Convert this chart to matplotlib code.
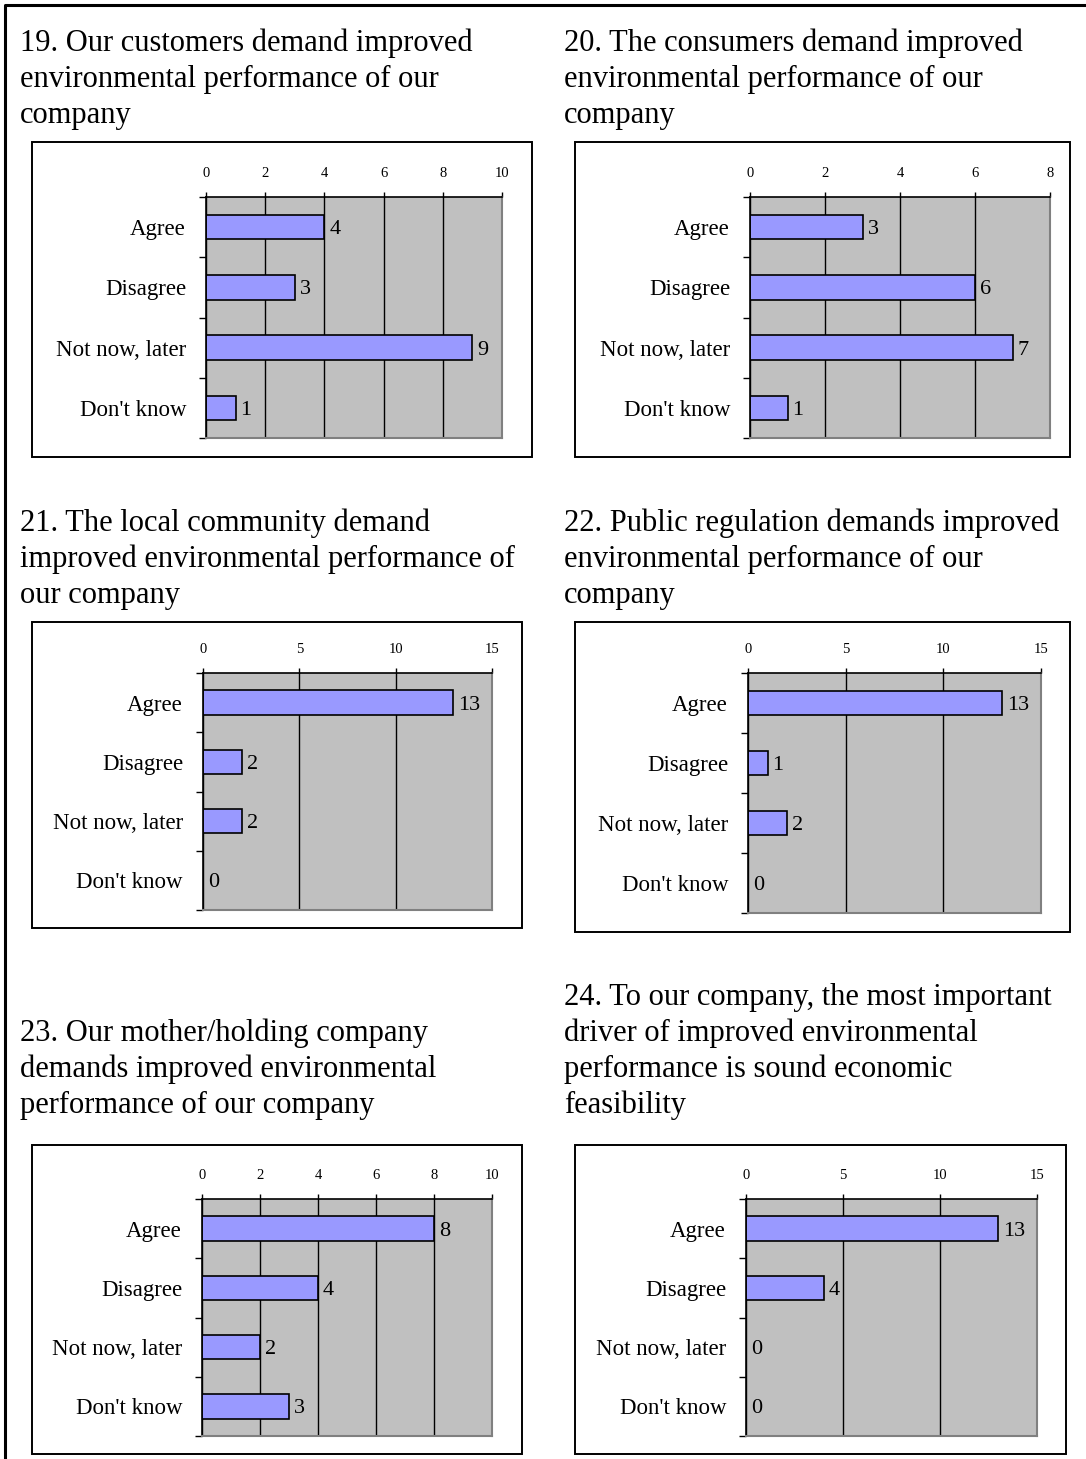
import numpy as np
import matplotlib
matplotlib.use("Agg")
import matplotlib.pyplot as plt
from matplotlib.patches import Rectangle
from matplotlib.lines import Line2D

plt.rcParams["font.family"] = ["Liberation Serif", "DejaVu Serif"]

# ---- survey data ----
categories = ["Agree", "Disagree", "Not now, later", "Don't know"]

q19_values = [4, 3, 9, 1]
q20_values = [3, 6, 7, 1]
q21_values = [13, 2, 2, 0]
q22_values = [13, 1, 2, 0]
q23_values = [8, 4, 2, 3]
q24_values = [13, 4, 0, 0]

q19_title = ["19. Our customers demand improved",
             "environmental performance of our",
             "company"]
q20_title = ["20. The consumers demand improved",
             "environmental performance of our",
             "company"]
q21_title = ["21. The local community demand",
             "improved environmental performance of",
             "our company"]
q22_title = ["22. Public regulation demands improved",
             "environmental performance of our",
             "company"]
q23_title = ["23. Our mother/holding company",
             "demands improved environmental",
             "performance of our company"]
q24_title = ["24. To our company, the most important",
             "driver of improved environmental",
             "performance is sound economic",
             "feasibility"]

q19_ticks = [0, 2, 4, 6, 8, 10]
q20_ticks = [0, 2, 4, 6, 8]
q21_ticks = [0, 5, 10, 15]
q22_ticks = [0, 5, 10, 15]
q23_ticks = [0, 2, 4, 6, 8, 10]
q24_ticks = [0, 5, 10, 15]

# ---- page layout (pixels) ----
W, H = 1086, 1459
DPI = 100
fig = plt.figure(figsize=(W / DPI, H / DPI), dpi=DPI)
fig.patch.set_facecolor("white")


def fx(x):
    return x / W


def fy(y):
    return 1 - y / H


# page frame (left and top edges visible)
fig.add_artist(Line2D([fx(5), fx(5), fx(W)], [fy(H), fy(5), fy(5)],
                      color="black", lw=2.2, transform=fig.transFigure))

panels = [
    # title, title x, first baseline, values, ticks, plot area, frame box
    (q19_title, 20, 51, q19_values, q19_ticks, (206, 197, 502, 438), (32, 142, 532, 457)),
    (q20_title, 564, 51, q20_values, q20_ticks, (750, 197, 1050, 438), (575, 142, 1070, 457)),
    (q21_title, 20, 531, q21_values, q21_ticks, (203, 673, 492, 910), (32, 622, 522, 928)),
    (q22_title, 564, 531, q22_values, q22_ticks, (748, 673, 1041, 913), (575, 622, 1070, 932)),
    (q23_title, 20, 1041, q23_values, q23_ticks, (202, 1199, 492, 1436), (32, 1145, 522, 1454)),
    (q24_title, 564, 1005, q24_values, q24_ticks, (746, 1199, 1037, 1436), (575, 1145, 1066, 1454)),
]

LINE_STEP = 36
px = 72 / DPI  # points per pixel

for title, tx, tb, values, ticks, plot, box in panels:
    # question text
    for i, line in enumerate(title):
        fig.text(fx(tx), fy(tb + i * LINE_STEP), line, fontsize=22,
                 ha="left", va="baseline", color="black")

    # chart frame
    bl, bt, br, bb = box
    fig.add_artist(Rectangle((fx(bl), fy(bb)), fx(br - bl), (bb - bt) / H,
                             fill=False, edgecolor="black", lw=1.4,
                             transform=fig.transFigure))

    # plot area
    l, t, r, b = plot
    ax = fig.add_axes([fx(l), fy(b), fx(r - l), (b - t) / H])
    ax.set_facecolor("#C0C0C0")
    ax.set_axisbelow(True)

    y = np.arange(len(categories))
    bars = ax.barh(y, values, height=0.41, color="#9999FF",
                   edgecolor="black", linewidth=1.2)
    labels = ax.bar_label(bars, labels=[str(v) for v in values],
                          padding=5 * px, fontsize=16, color="black")
    for lab in labels:
        lab.set_va("center_baseline")

    ax.set_xlim(ticks[0], ticks[-1])
    ax.set_ylim(len(categories) - 0.5, -0.5)

    # value axis along the top
    ax.xaxis.tick_top()
    ax.set_xticks(ticks, labels=[str(v) for v in ticks])
    ax.tick_params(axis="x", which="major", direction="out", length=5 * px,
                   width=1, pad=12 * px, labelsize=10.5, colors="black")
    ax.grid(axis="x", color="black", lw=1.0)

    # category axis: ticks at band edges, labels at band centres
    ax.set_yticks(np.arange(len(categories) + 1) - 0.5)
    ax.set_yticklabels([])
    ax.set_yticks(y, labels=categories, minor=True)
    ax.tick_params(axis="y", which="major", direction="out", length=7 * px,
                   width=1, color="black")
    ax.tick_params(axis="y", which="minor", length=0, pad=20 * px,
                   labelsize=16.5)

    for side in ("top", "left"):
        ax.spines[side].set_color("black")
        ax.spines[side].set_linewidth(1.2)
    for side in ("right", "bottom"):
        ax.spines[side].set_color("#808080")
        ax.spines[side].set_linewidth(1.5)

fig.savefig("out.png", dpi=DPI, facecolor="white")
